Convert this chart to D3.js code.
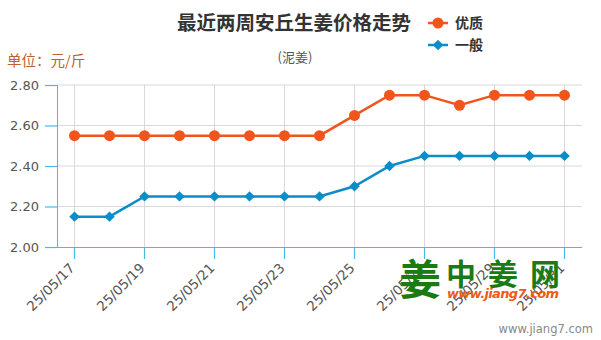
<!DOCTYPE html>
<html><head><meta charset="utf-8">
<script src="https://cdn.jsdelivr.net/npm/d3@7/dist/d3.min.js"></script>
<style>body{margin:0;background:#fff}svg{display:block}</style>
</head><body><svg id="c" width="601" height="340"></svg>
<script>
const dates = ["25/05/17","25/05/18","25/05/19","25/05/20","25/05/21","25/05/22","25/05/23","25/05/24","25/05/25","25/05/26","25/05/27","25/05/28","25/05/29","25/05/30","25/05/31"];
const youzhi = [2.55,2.55,2.55,2.55,2.55,2.55,2.55,2.55,2.65,2.75,2.75,2.70,2.75,2.75,2.75];
const yiban  = [2.15,2.15,2.25,2.25,2.25,2.25,2.25,2.25,2.30,2.40,2.45,2.45,2.45,2.45,2.45];
const yTicks = [2.00,2.20,2.40,2.60,2.80];
const seriesNames = ["优质","一般"];

const svg = d3.select("#c");
const cjk = "'Noto Sans CJK SC','Noto Sans',sans-serif";
const num = "'DejaVu Sans',sans-serif";
const orange = "#f0561b", blue = "#0a8dc8", axisC = "#4ab9e8", gridC = "#d9d9d9";

const x = d3.scaleBand().domain(dates).range([57, 582]);
const cx = d => x(d) + x.bandwidth()/2;
const y = d3.scaleLinear().domain([2.0, 2.8]).range([247, 85]);
const labelDates = dates.filter((d,i) => i % 2 === 0);

// horizontal grid
svg.append("g").selectAll("line").data(yTicks.slice(1)).join("line")
  .attr("x1", 57).attr("x2", 582).attr("y1", d => y(d)).attr("y2", d => y(d))
  .attr("stroke", gridC).attr("stroke-width", 1);
// vertical grid
svg.append("g").selectAll("line").data(labelDates).join("line")
  .attr("x1", d => cx(d)).attr("x2", d => cx(d)).attr("y1", 85).attr("y2", 247)
  .attr("stroke", gridC).attr("stroke-width", 1);

// y axis
const yAxis = d3.axisLeft(y).tickValues(yTicks).tickFormat(d3.format(".2f")).tickSize(12).tickPadding(6);
const gy = svg.append("g").attr("transform", "translate(57,0)").call(yAxis);
gy.select(".domain").attr("stroke", axisC).attr("d", "M0.5,85V247");
gy.selectAll(".tick line").attr("stroke", axisC).attr("stroke-width", 1.2);
gy.selectAll(".tick text").attr("fill", "#555").style("font-family", num).style("font-size", "13px");

// x axis
const xAxis = d3.axisBottom(x).tickValues(labelDates).tickSize(12).tickSizeOuter(0).tickFormat(d => d);
const gx = svg.append("g").attr("transform", "translate(0,247)").call(xAxis);
gx.select(".domain").attr("stroke", axisC).attr("stroke-width", 1.2).attr("d", "M45,0.5H582");
gx.selectAll(".tick line").attr("stroke", axisC).attr("stroke-width", 1.2);
gx.selectAll(".tick text")
  .attr("fill", "#555").style("font-family", num).style("font-size", "13.5px")
  .attr("text-anchor", "end").attr("y", 0).attr("dy", "0")
  .attr("transform", "translate(1,22) rotate(-45)");

// lines
const line = d3.line().x((d,i) => cx(dates[i])).y(d => y(d));
svg.append("path").datum(youzhi).attr("d", line).attr("fill", "none").attr("stroke", orange).attr("stroke-width", 2.5);
svg.append("path").datum(yiban).attr("d", line).attr("fill", "none").attr("stroke", blue).attr("stroke-width", 2.5);
svg.append("g").selectAll("circle").data(youzhi).join("circle")
  .attr("cx", (d,i) => cx(dates[i])).attr("cy", d => y(d)).attr("r", 5.5).attr("fill", orange);
const diamond = d3.symbol().type(d3.symbolDiamond2).size(70);
svg.append("g").selectAll("path").data(yiban).join("path")
  .attr("d", diamond).attr("transform", (d,i) => `translate(${cx(dates[i])},${y(d)})`)
  .attr("fill", blue);

// title etc
svg.append("text").attr("x", 294).attr("y", 30).attr("text-anchor", "middle")
  .style("font-family", cjk).style("font-size", "19.5px").style("font-weight", "bold").attr("fill", "#333")
  .text("最近两周安丘生姜价格走势");
svg.append("text").attr("x", 295).attr("y", 62).attr("text-anchor", "middle")
  .style("font-family", cjk).style("font-size", "13px").attr("fill", "#555").text("(泥姜)");
svg.append("text").attr("x", 7).attr("y", 66)
  .style("font-family", cjk).style("font-size", "14.5px").attr("fill", "#c0602e").text("单位：元/斤");

// legend
const leg = svg.append("g");
[[orange, 23, "circle"], [blue, 45, "diamond"]].forEach(([c, ly, t], i) => {
  leg.append("line").attr("x1", 428).attr("x2", 448).attr("y1", ly).attr("y2", ly).attr("stroke", c).attr("stroke-width", 2.5);
  if (t === "circle") leg.append("circle").attr("cx", 438).attr("cy", ly).attr("r", 5.5).attr("fill", c);
  else leg.append("path").attr("d", diamond).attr("transform", `translate(438,${ly})`).attr("fill", c);
  leg.append("text").attr("x", 455).attr("y", ly + 5).style("font-family", cjk).style("font-size", "14px")
    .style("font-weight", "bold").attr("fill", "#333").text(seriesNames[i]);
});

// watermark
const wm = svg.append("g");
wm.append("text").attr("x", 399).attr("y", 295).style("font-family", cjk).style("font-size", "42px")
  .style("font-weight", "bold").attr("fill", "#1c7a12").text("姜");
wm.append("text").attr("x", 446).attr("y", 285).style("font-family", cjk).style("font-size", "30px")
  .style("font-weight", "bold").attr("fill", "#1c7a12").attr("textLength", 114).text("中姜网");
wm.append("text").attr("x", 447).attr("y", 298).style("font-family", "'DejaVu Sans',sans-serif").style("font-size", "13px")
  .style("font-weight", "bold").style("font-style", "italic").attr("fill", "#f05a14").attr("textLength", 112).text("www.jiang7.com");
svg.append("text").attr("x", 593).attr("y", 333).attr("text-anchor", "end")
  .style("font-family", "'DejaVu Sans',sans-serif").style("font-size", "11.5px").attr("fill", "#888").text("www.jiang7.com");
</script></body></html>
